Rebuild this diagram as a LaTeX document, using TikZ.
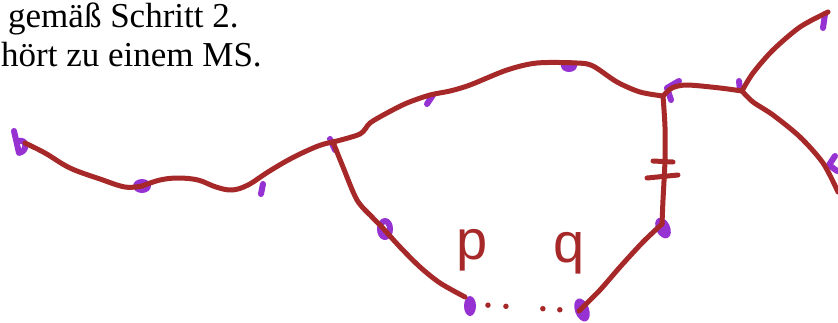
\documentclass[tikz,border=0pt]{standalone}
\usepackage{fontspec}
\setmainfont{Liberation Serif}
\setsansfont{Liberation Sans}
\usetikzlibrary{positioning}
\definecolor{inkRed}{RGB}{167,40,40}
\definecolor{inkPurple}{RGB}{150,50,210}
\tikzset{
  edge/.style={draw=inkRed, line width=5pt, line cap=round, line join=round},
  dotted edge/.style={draw=inkRed, line width=5.5pt, line cap=round, dash pattern=on 0pt off 18pt on 0pt off 37pt on 0pt off 17pt on 0pt off 20pt on 0pt off 300pt},
  blob/.style={draw=inkPurple, line width=6pt, line cap=round, line join=round},
  dab/.style={fill=inkPurple},
  tick/.style={draw=inkRed, line width=5pt, line cap=round},
  hand/.style={text=inkRed, font=\sffamily\fontsize{56}{56}\selectfont, inner sep=0pt},
  caption/.style={anchor=base west, inner sep=0pt, font=\fontsize{35}{42}\selectfont}
}

\begin{document}
\begin{tikzpicture}[x=1pt, y=-1pt]
  \useasboundingbox (0,0) rectangle (838,322);

  \node[caption] (line1) at (8,27) {gemäß Schritt 2.};
  \node[caption] (line2) at (1,66) {hört zu einem MS.};

  \coordinate (vB) at (25,143);
  \coordinate (vA) at (142,186);
  \coordinate (vC) at (333,142);
  \coordinate (vD) at (663,96);
  \coordinate (vE) at (742,91);
  \coordinate (vF) at (828,12);
  \coordinate (vG) at (838,192);
  \coordinate (vH) at (662,224);
  \coordinate (vO) at (381,226);
  \coordinate (vP) at (470,304);
  \coordinate (vQ) at (579,311);

  % purple vertex marks
  \draw[blob] (14,131) -- (19,153) .. controls (28,151) and (27,139) .. (19,141);
  \fill[dab] (vA) ellipse [x radius=9pt, y radius=7pt];
  \draw[blob] (263,184) -- (261,194);
  \draw[blob] (330,139) -- (335,150);
  \draw[blob] (433,95) -- (427,104);
  \fill[dab] (569,66) ellipse [x radius=8pt, y radius=6pt];
  \draw[blob] (679,81) -- (667,88) -- (671,100);
  \draw[blob] (739,81) -- (740,90);
  \draw[blob] (825,14) -- (823,28);
  \draw[blob] (835,156) -- (829,165) -- (837,171);
  \fill[dab, rotate around={25:(663,228)}] (663,228) ellipse [x radius=7pt, y radius=11pt];
  \draw[blob] (385,229) ellipse [x radius=5pt, y radius=8pt];
  \fill[dab] (470,306) ellipse [x radius=6pt, y radius=10pt];
  \fill[dab, rotate around={20:(582,310)}] (582,310) ellipse [x radius=7pt, y radius=12pt];

  % edges
  \draw[edge] plot[smooth, tension=0.6] coordinates {(vB) (45,153) (70,168) (100,179) (125,187) (vA)};
  \draw[edge] plot[smooth, tension=0.6] coordinates {(vA) (160,180) (178,178) (198,180) (216,187) (232,190) (248,185) (268,172) (292,158) (318,146) (vC)};
  \draw[edge] plot[smooth, tension=0.5] coordinates {(vC) (360,134) (370,123) (387,113) (407,103) (430,95) (450,91) (470,85) (507,70) (537,63) (577,63) (593,66) (617,82) (640,92) (vD)};
  \draw[edge] plot[smooth, tension=0.5] coordinates {(vD) (672,88) (687,85) (720,88) (vE)};
  \draw[edge] plot[smooth, tension=0.5] coordinates {(vE) (753,73) (773,50) (800,27) (vF)};
  \draw[edge] plot[smooth, tension=0.5] coordinates {(vE) (753,102) (773,115) (800,137) (823,163) (vG)};
  \draw[edge] plot[smooth, tension=0.5] coordinates {(vD) (665,127) (665,160) (663,200) (vH)};
  \draw[edge] plot[smooth, tension=0.5] coordinates {(vH) (643,242) (620,267) (600,290) (vQ)};
  \draw[edge] plot[smooth, tension=0.5] coordinates {(vC) (343,167) (357,200) (372,217) (vO)};
  \draw[edge] plot[smooth, tension=0.5] coordinates {(vO) (400,247) (420,267) (440,283) (465,297)};
  \draw[dotted edge, shorten <=18pt] (vP) -- (vQ);

  % equal-length ticks
  \draw[tick] (653,161) -- (673,162);
  \draw[tick] (647,178) -- (678,175);

  \node[hand] (labelP) at (472,250) {p};
  \node[hand] (labelQ) at (569,253) {q};
\end{tikzpicture}
\end{document}
